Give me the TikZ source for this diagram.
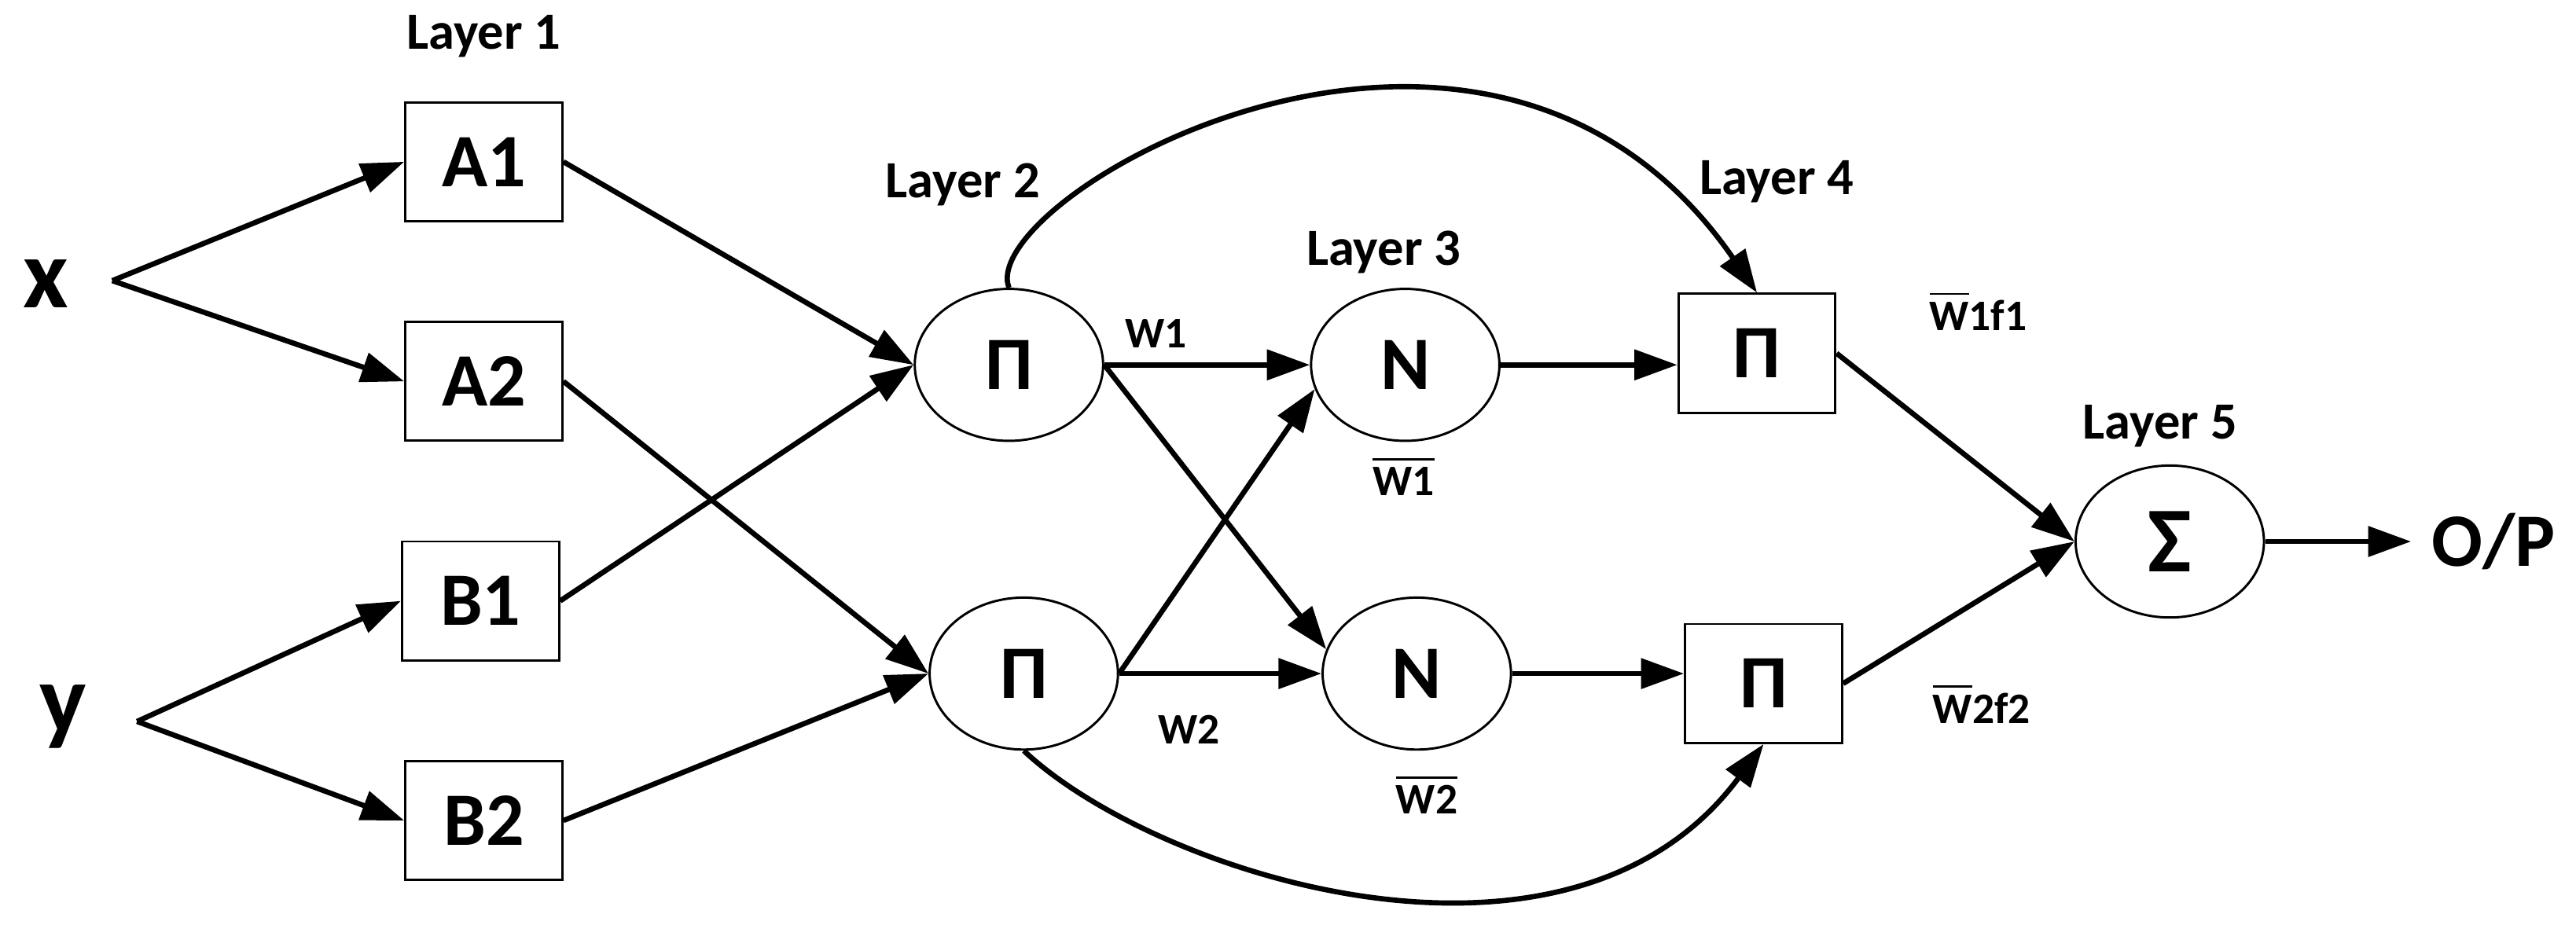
\documentclass[tikz,border=0pt]{standalone}
\usepackage{fontspec}
\setmainfont{Carlito}
\usetikzlibrary{arrows.meta,shapes.geometric}
\tikzset{
  box/.style={draw,thin,minimum width=0.95cm,minimum height=0.72cm,inner sep=0pt,font=\bfseries\fontsize{13}{13}\selectfont},
  ell/.style={draw,thin,ellipse,minimum width=1.14cm,minimum height=0.92cm,inner sep=0pt,font=\bfseries\fontsize{13}{13}\selectfont},
  lab/.style={font=\bfseries\fontsize{9}{9}\selectfont},
  wl/.style={font=\bfseries\fontsize{7.5}{7.5}\selectfont},
  big/.style={font=\bfseries\fontsize{17}{17}\selectfont},
  arr/.style={-{Triangle[length=2.6mm,width=1.8mm]},line width=0.9pt},
}
\begin{document}
\begin{tikzpicture}[x=0.01cm,y=-0.01cm]
\useasboundingbox (0,0) rectangle (1560,560);
% inputs
\node[big] (x) at (28,172) {x};
\node[big] (y) at (38,434) {y};
\coordinate (xb) at (68,170);
\coordinate (yb) at (83,437);
% layer 1
\node[box] (A1) at (293,98) {A1};
\node[box] (A2) at (293,231) {A2};
\node[box] (B1) at (291,364) {B1};
\node[box] (B2) at (293,497) {B2};
% layer 2, 3
\node[ell] (P1) at (611,221) {Π};
\node[ell] (P2) at (620,408) {Π};
\node[ell] (N1) at (851,221) {N};
\node[ell] (N2) at (858,408) {N};
% layer 4, 5
\node[box] (Q1) at (1064,214) {Π};
\node[box] (Q2) at (1068,414) {Π};
\node[ell,font=\bfseries\fontsize{16}{16}\selectfont] (S) at (1314,328) {Σ};
\node[font=\bfseries\fontsize{13}{13}\selectfont] (OP) at (1510,328) {O/P};
% labels
\node[lab] (L1) at (293,22) {Layer 1};
\node[lab] (L2) at (583,112) {Layer 2};
\node[lab] (L3) at (838,153) {Layer 3};
\node[lab] (L4) at (1076,110) {Layer 4};
\node[lab] (L5) at (1308,258) {Layer 5};
\node[wl] (w1) at (700,202) {W1};
\node[wl] (w2) at (720,442) {W2};
\node[wl] (nw1) at (850,288) {$\overline{\vphantom{T}\hbox{W1}}$};
\node[wl] (nw2) at (864,481) {$\overline{\vphantom{T}\hbox{W2}}$};
\node[wl] (wf1) at (1198,188) {$\overline{\vphantom{T}\hbox{W}}$\hbox{1f1}};
\node[wl] (wf2) at (1200,426) {$\overline{\vphantom{T}\hbox{W}}$\hbox{2f2}};
% connectors
\draw[arr] (xb) -- (A1.west);
\draw[arr] (xb) -- (A2.west);
\draw[arr] (yb) -- (B1.west);
\draw[arr] (yb) -- (B2.west);
\draw[arr] (A1.east) -- (P1.west);
\draw[arr] (A2.east) -- (P2.west);
\draw[arr] (B1.east) -- (P1.west);
\draw[arr] (B2.east) -- (P2.west);
\draw[arr] (P1.east) -- (N1.west);
\draw[arr] (P1.east) -- (N2.165);
\draw[arr] (P2.east) -- (N1.195);
\draw[arr] (P2.east) -- (N2.west);
\draw[arr] (N1.east) -- (N1.east -| Q1.west);
\draw[arr] (N2.east) -- (N2.east -| Q2.west);
\draw[arr] (P1.north) .. controls (590,120) and (900,-60) .. (Q1.north);
\draw[arr] (P2.south) .. controls (700,530) and (950,610) .. (Q2.south);
\draw[arr] (Q1.east) -- (S.west);
\draw[arr] (Q2.east) -- (S.west);
\draw[arr] (S.east) -- (OP.west);
\end{tikzpicture}
\end{document}
